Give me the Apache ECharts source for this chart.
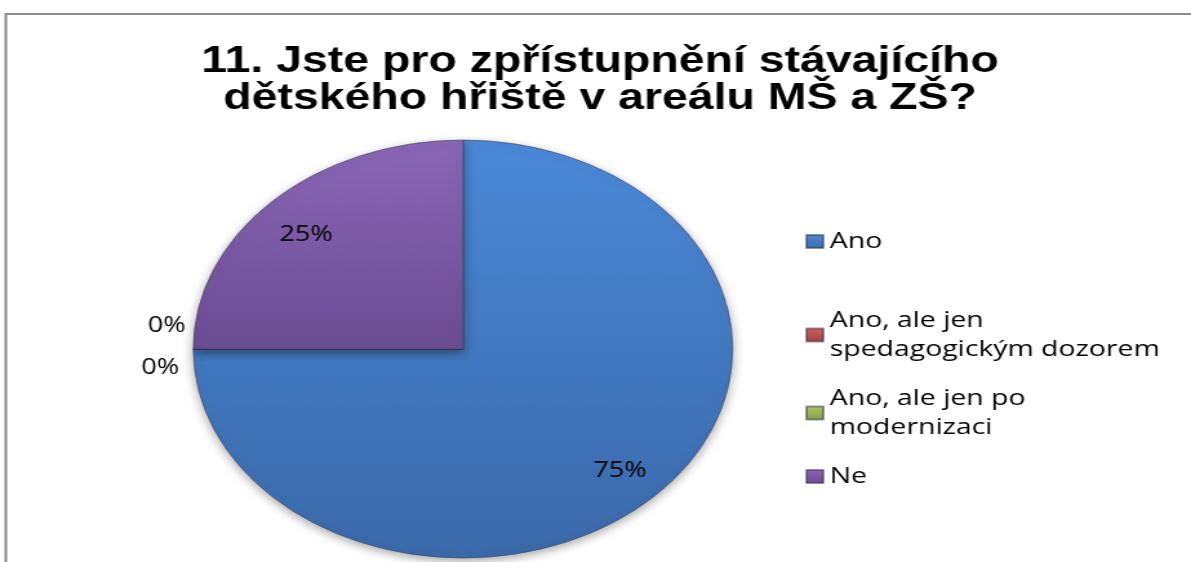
<!DOCTYPE html>
<html>
<head>
<meta charset="utf-8">
<script src="https://cdn.jsdelivr.net/npm/echarts@6/dist/echarts.min.js"></script>
<style>
  html, body { margin: 0; padding: 0; background: #fff; overflow: hidden; }
  /* the original picture is stretched sideways, so the chart is too */
  #main { width: 923px; height: 562px; transform: scaleX(1.2904); transform-origin: 0 0; }
</style>
</head>
<body>
<div id="main"></div>
<script>
var titleLines = ['11. Jste pro zpřístupnění stávajícího', 'dětského hřiště v areálu MŠ a ZŠ?'];
var categories = ['Ano', 'Ano, ale jen spedagogickým dozorem', 'Ano, ale jen po modernizaci', 'Ne'];
var shares = [75, 0, 0, 25];

var topColors = ['#4b89d8', '#d2605c', '#aacb68', '#8a67b7'];
var bottomColors = ['#3a69a9', '#a0403d', '#809c48', '#6c4c93'];
// small nudges of the percent labels [dx, dy], Excel puts them a bit off the ECharts spots
var labelNudge = [[0, 0], [0, -23], [-5, 19], [0, 8]];

function grad(i) {
  return {
    type: 'linear', x: 0, y: 0, x2: 0, y2: 1,
    colorStops: [{offset: 0, color: topColors[i]}, {offset: 1, color: bottomColors[i]}]
  };
}

var pieData = categories.map(function (name, i) {
  return {name: name, value: shares[i], itemStyle: {color: grad(i)}};
});
var labelData = categories.map(function (name, i) {
  return {name: name, value: shares[i]};
});
var legendItems = categories.map(function (name, i) {
  return {name: name, itemStyle: {color: grad(i)}};
});

var font = 'Open Sans';
var legendText = {
  fontFamily: font, fontSize: 22, color: '#000', lineHeight: 29,
  width: 268, overflow: 'break'
};

function nudge(params) {
  var d = labelNudge[params.dataIndex];
  return {dx: d[0], dy: d[1], hideOverlap: false, moveOverlap: false};
}

var chart = echarts.init(document.getElementById('main'));
chart.setOption({
  animation: false,
  graphic: [{
    type: 'rect', silent: true,
    shape: {x: 4.5, y: 14, width: 1000, height: 700},
    style: {fill: null, stroke: '#8a8a8a', lineWidth: 2}
  }],
  title: {
    text: titleLines.join('\n'),
    left: 460, top: 39, textAlign: 'center',
    textStyle: {fontFamily: 'Liberation Sans', fontWeight: 'bold', fontSize: 36, lineHeight: 37, color: '#000'}
  },
  legend: [{
    orient: 'vertical', left: 624, top: 227, padding: 0,
    itemWidth: 13, itemHeight: 13, itemGap: 20, icon: 'rect',
    selectedMode: false,
    data: legendItems.slice(0, 1),
    textStyle: legendText
  }, {
    orient: 'vertical', left: 624, top: 306, padding: 0,
    itemWidth: 13, itemHeight: 13, itemGap: 20, icon: 'rect',
    selectedMode: false,
    data: legendItems.slice(1),
    textStyle: legendText
  }],
  series: [{
    // visible pie, shows only the labels of empty slices outside
    type: 'pie',
    center: [358.8, 349],
    radius: 209,
    startAngle: 90,
    clockwise: true,
    avoidLabelOverlap: false,
    emphasis: {disabled: true},
    itemStyle: {
      borderColor: 'rgba(60,60,80,0.55)', borderWidth: 1,
      shadowBlur: 10, shadowOffsetY: 3, shadowColor: 'rgba(0,0,0,0.35)'
    },
    label: {
      show: true, position: 'outside',
      fontFamily: font, fontSize: 21, color: '#000',
      formatter: function (p) { return p.percent < 1 ? p.percent + '%' : ''; }
    },
    labelLine: {show: false, length: 1, length2: 0},
    labelLayout: nudge,
    data: pieData
  }, {
    // transparent ring that places the big labels further out than the middle
    type: 'pie',
    center: [358.8, 349],
    radius: [129, 209],
    startAngle: 90,
    clockwise: true,
    silent: true,
    emphasis: {disabled: true},
    itemStyle: {color: 'rgba(0,0,0,0)'},
    label: {
      show: true, position: 'inside',
      fontFamily: font, fontSize: 21, color: '#000',
      formatter: function (p) { return p.percent >= 1 ? p.percent + '%' : ''; }
    },
    labelLine: {show: false},
    labelLayout: nudge,
    data: labelData
  }]
});
</script>
</body>
</html>
